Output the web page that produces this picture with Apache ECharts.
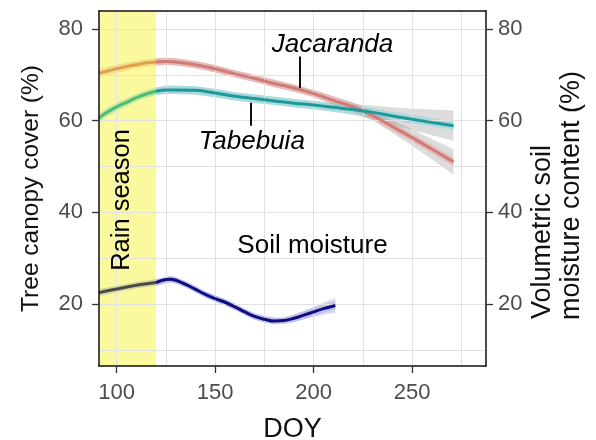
<!DOCTYPE html>
<html>
<head>
<meta charset="utf-8">
<script src="https://cdn.jsdelivr.net/npm/echarts@6/dist/echarts.min.js"></script>
<style>html,body{margin:0;padding:0;background:#fff}#c{width:596px;height:440px}</style>
</head>
<body>
<div id="c"></div>
<script>
// ---- data ----
const doyTree = [91,95,100,105,110,115,120,125,130,140,150,160,170,180,190,200,210,220,230,240,250,260,271];
const jacaranda = [70.3,70.8,71.3,71.8,72.2,72.6,72.8,72.9,72.8,72.2,71.3,70.2,69.2,68.1,67.1,65.9,64.4,63.0,61.1,58.7,56.3,53.8,51.0];
const jacarandaSE = [1.0,0.9,0.9,0.8,0.8,0.8,0.8,0.8,0.8,0.8,0.8,0.8,0.8,0.8,0.8,0.8,0.9,1.0,1.1,1.4,1.8,2.2,2.8];
const tabebuia = [60.6,61.8,63.0,64.0,65.0,65.8,66.4,66.7,66.7,66.6,66.0,65.3,64.8,64.3,63.8,63.4,62.9,62.4,61.8,61.0,60.3,59.6,58.9];
const tabebuiaSE = [1.0,0.9,0.9,0.8,0.8,0.8,0.8,0.9,0.9,0.9,0.9,0.9,0.9,0.9,0.9,0.9,1.0,1.2,1.5,1.9,2.3,2.8,3.3];
const doySoil = [91,100,110,120,127,130,135,140,145,150,155,160,165,170,175,180,185,190,195,200,205,211];
const soilMoisture = [22.5,23.3,24.1,24.7,25.4,25.2,24.3,23.2,22.1,21.2,20.4,19.4,18.3,17.3,16.7,16.3,16.4,16.9,17.6,18.3,19.0,19.7];
const soilSE = [0.8,0.7,0.7,0.7,0.7,0.7,0.7,0.7,0.7,0.7,0.7,0.7,0.7,0.7,0.7,0.7,0.7,0.8,0.9,1.1,1.3,1.6];
const rainSeason = [91, 120];
const xTicks = [100,150,200,250];
const yTicks = [20,40,60,80];
const xGrid = [100,125,150,175,200,225,250,275];
const yGrid = [10,20,30,40,50,60,70,80];
const xMin = 91, xMax = 287.5, yMin = 6.5, yMax = 83.9;

// ---- helpers ----
const FONT = 'Liberation Sans, Arial, sans-serif';
function seg(xs, vs, ses, inRain) {
  const r = {x:[], v:[], se:[]};
  xs.forEach((x,i)=>{
    if (inRain ? x <= rainSeason[1] : x >= rainSeason[1]) { r.x.push(x); r.v.push(vs[i]); r.se.push(ses[i]); }
  });
  return r;
}
function bandSeries(s, fill, cap, z) {
  return {
    type: 'custom', z: z, silent: true, clip: true,
    data: [[s.x[0], s.v[0]]],
    renderItem: function (params, api) {
      const pts = [];
      for (let i = 0; i < s.x.length; i++) {
        const w = cap ? Math.min(s.se[i], cap) : s.se[i];
        pts.push(api.coord([s.x[i], s.v[i] + w]));
      }
      for (let i = s.x.length - 1; i >= 0; i--) {
        const w = cap ? Math.min(s.se[i], cap) : s.se[i];
        pts.push(api.coord([s.x[i], s.v[i] - w]));
      }
      return { type: 'polygon', shape: { points: pts }, style: { fill: fill } };
    }
  };
}
function lineSeries(s, color, z) {
  return {
    type: 'line', z: z, smooth: 0.4, symbol: 'none', silent: true,
    data: s.x.map((x,i)=>[x, s.v[i]]),
    lineStyle: { color: color, width: 3 }
  };
}
function note(x, y, text, size, italic, rotate) {
  return { coord: [x, y], value: text, symbol: 'circle', symbolSize: 0,
    itemStyle: { color: '#000' },
    label: { show: true, position: 'inside', formatter: text, opacity: 1,
      fontStyle: italic ? 'italic' : 'normal', fontSize: size, color: '#000', fontFamily: FONT,
      rotate: rotate || 0, textBorderWidth: 0, textShadowBlur: 0 } };
}

const jacR = seg(doyTree, jacaranda, jacarandaSE, true);
const jacD = seg(doyTree, jacaranda, jacarandaSE, false);
const tabR = seg(doyTree, tabebuia, tabebuiaSE, true);
const tabD = seg(doyTree, tabebuia, tabebuiaSE, false);
const soilR = seg(doySoil, soilMoisture, soilSE, true);
const soilD = seg(doySoil, soilMoisture, soilSE, false);

const series = [
  { // rain season background
    type: 'line', data: [], z: 1, silent: true,
    markArea: { silent: true, itemStyle: { color: '#FAF99E' },
      data: [[{ xAxis: rainSeason[0], yAxis: yMin }, { xAxis: rainSeason[1], yAxis: yMax }]] }
  },
  { // grid lines
    type: 'line', data: [], z: 2, silent: true,
    markLine: { silent: true, symbol: 'none', animation: false,
      label: { show: false },
      lineStyle: { color: '#e2e2e2', width: 1, type: 'solid' },
      data: xGrid.map(v=>({ xAxis: v })).concat(yGrid.map(v=>({ yAxis: v }))) }
  },
  bandSeries(jacD, 'rgba(140,140,140,0.30)', 0, 3),
  bandSeries(tabD, 'rgba(140,140,140,0.30)', 0, 3),
  bandSeries(soilD, 'rgba(140,140,200,0.30)', 0, 3),
  bandSeries(jacR, 'rgba(230,170,90,0.35)', 0.9, 4),
  bandSeries(jacD, 'rgba(235,150,150,0.45)', 0.9, 4),
  bandSeries(tabR, 'rgba(120,210,140,0.40)', 0.9, 4),
  bandSeries(tabD, 'rgba(120,215,220,0.50)', 0.9, 4),
  bandSeries(soilR, 'rgba(150,150,150,0.35)', 0.9, 4),
  bandSeries(soilD, 'rgba(150,150,230,0.40)', 0.9, 4),
  lineSeries(jacR, '#E0A048', 5),
  lineSeries(jacD, '#D27A74', 5),
  lineSeries(tabR, '#4DBB7A', 5),
  lineSeries(tabD, '#1E9898', 5),
  lineSeries(soilR, '#4a4a4a', 5),
  lineSeries(soilD, '#0d0d80', 5),
  { // leader lines and annotations
    type: 'line', data: [], z: 6, silent: true,
    markLine: { silent: true, symbol: 'none', animation: false, label: { show: false },
      lineStyle: { color: '#111', width: 2, type: 'solid' },
      data: [
        [{ coord: [193, 74.0] }, { coord: [193, 66.9] }],
        [{ coord: [168.3, 63.9] }, { coord: [168.3, 58.9] }]
      ] },
    markPoint: { silent: true, animation: false,
      data: [
        note(209.6, 76.5, 'Jacaranda', 26, true),
        note(168.6, 55.3, 'Tabebuia', 26, true),
        note(199.4, 32.6, 'Soil moisture', 26, false),
        note(102.5, 42.7, 'Rain season', 25.5, false, 90)
      ] }
  }
];

const axisLabelStyle = { fontSize: 22, color: '#4d4d4d', fontFamily: FONT };
const chart = echarts.init(document.getElementById('c'), null, { renderer: 'canvas' });
chart.setOption({
  animation: false,
  backgroundColor: '#fff',
  grid: { left: 99, right: 110, top: 11, bottom: 74, show: false, containLabel: false, outerBoundsMode: 'none' },
  xAxis: [
    { type: 'value', min: xMin, max: xMax, z: 10,
      axisLine: { show: true, lineStyle: { color: '#111', width: 1.5 } },
      axisTick: { show: true, customValues: xTicks, length: 7, lineStyle: { color: '#333', width: 1.3 } },
      axisLabel: Object.assign({ customValues: xTicks, margin: 16 }, axisLabelStyle),
      splitLine: { show: false },
      name: 'DOY', nameLocation: 'middle', nameGap: 50,
      nameTextStyle: { fontSize: 27, color: '#111', fontFamily: FONT } },
    { type: 'value', min: xMin, max: xMax, position: 'top', z: 10,
      axisLine: { show: true, lineStyle: { color: '#111', width: 1.5 } },
      axisTick: { show: false }, axisLabel: { show: false }, splitLine: { show: false } }
  ],
  yAxis: [
    { type: 'value', min: yMin, max: yMax, position: 'left', z: 10,
      axisLine: { show: true, lineStyle: { color: '#111', width: 1.5 } },
      axisTick: { show: true, customValues: yTicks, length: 7, lineStyle: { color: '#333', width: 1.3 } },
      axisLabel: Object.assign({ customValues: yTicks, margin: 16 }, axisLabelStyle),
      splitLine: { show: false },
      name: 'Tree canopy cover (%)', nameLocation: 'middle', nameGap: 55, nameRotate: 90,
      nameTextStyle: { fontSize: 24.5, color: '#111', fontFamily: FONT } },
    { type: 'value', min: yMin, max: yMax, position: 'right', z: 10,
      axisLine: { show: true, lineStyle: { color: '#111', width: 1.5 } },
      axisTick: { show: true, customValues: yTicks, length: 7, lineStyle: { color: '#333', width: 1.3 } },
      axisLabel: Object.assign({ customValues: yTicks, margin: 12 }, axisLabelStyle),
      splitLine: { show: false } }
  ],
  graphic: [
    { type: 'text', x: 543, y: 319, rotation: Math.PI / 2, silent: true,
      style: { text: 'Volumetric soil', fill: '#111', font: '27px ' + FONT,
        align: 'left', verticalAlign: 'middle', textAlign: 'left', textVerticalAlign: 'middle' } },
    { type: 'text', x: 572, y: 320, rotation: Math.PI / 2, silent: true,
      style: { text: 'moisture content (%)', fill: '#111', font: '27px ' + FONT,
        align: 'left', verticalAlign: 'middle', textAlign: 'left', textVerticalAlign: 'middle' } }
  ],
  series: series
});
</script>
</body>
</html>
